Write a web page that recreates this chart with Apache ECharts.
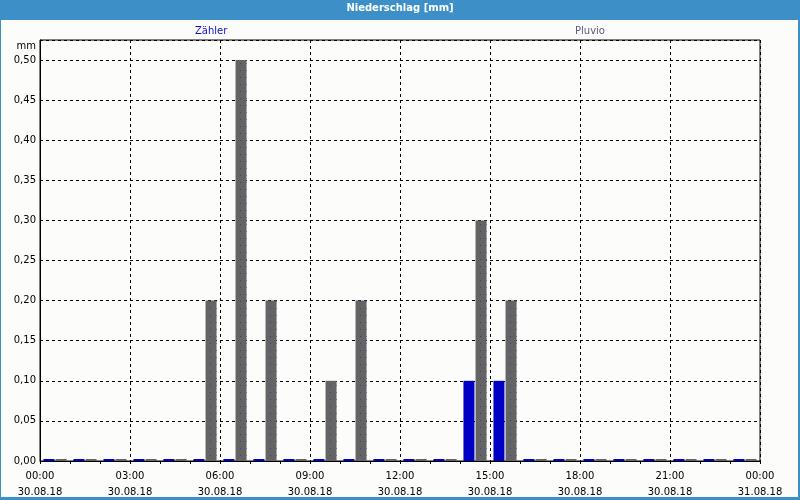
<!DOCTYPE html>
<html>
<head>
<meta charset="utf-8">
<script src="https://cdn.jsdelivr.net/npm/echarts@6/dist/echarts.min.js"></script>
<style>html,body{margin:0;padding:0;background:#fcfdfb;}#c{width:800px;height:500px;}</style>
</head>
<body>
<div id="c"></div>
<script>
var hours = [0,1,2,3,4,5,6,7,8,9,10,11,12,13,14,15,16,17,18,19,20,21,22,23];
var zaehler = [0,0,0,0,0,0,0,0,0,0,0,0,0,0,0.1,0.1,0,0,0,0,0,0,0,0];
var pluvio  = [0,0,0,0,0,0.2,0.5,0.2,0,0.1,0.2,0,0,0,0.3,0.2,0,0,0,0,0,0,0,0];
var xTickLabels = {0:'00:00\n30.08.18',3:'03:00\n30.08.18',6:'06:00\n30.08.18',9:'09:00\n30.08.18',12:'12:00\n30.08.18',15:'15:00\n30.08.18',18:'18:00\n30.08.18',21:'21:00\n30.08.18',24:'00:00\n31.08.18'};

var FONT = 'DejaVu Sans';
var chart = echarts.init(document.getElementById('c'), null, {renderer:'canvas'});
function pairs(arr){ return hours.map(function(h,i){ return [h+0.5, arr[i]]; }); }
chart.setOption({
  backgroundColor:'#fcfdfb',
  animation:false,
  title:{text:'Niederschlag [mm]', left:'center', top:3, padding:0,
    textStyle:{color:'#ffffff', fontFamily:FONT, fontSize:10, fontWeight:'bold'}},
  graphic:[
    {type:'rect', z:-1, shape:{x:0,y:0,width:800,height:20}, style:{fill:'#3d8fc7'}},
    {type:'rect', z:-1, shape:{x:0,y:0,width:1,height:500}, style:{fill:'#3d8fc7'}},
    {type:'rect', z:-1, shape:{x:798,y:0,width:2,height:500}, style:{fill:'#3d8fc7'}},
    {type:'rect', z:-1, shape:{x:0,y:497,width:800,height:3}, style:{fill:'#3d8fc7'}}
  ],
  legend:[
    {data:['Zähler'], left:190, top:26, itemWidth:0, itemHeight:0, icon:'rect', padding:0,
      textStyle:{color:'#1010d0', fontFamily:FONT, fontSize:10}},
    {data:['Pluvio'], left:570, top:26, itemWidth:0, itemHeight:0, icon:'rect', padding:0,
      textStyle:{color:'#5a5a80', fontFamily:FONT, fontSize:10}}
  ],
  grid:{left:40, right:40, top:40, bottom:39, show:true, borderColor:'#000', borderWidth:1, backgroundColor:'transparent'},
  xAxis:{type:'value', min:0, max:24, interval:3,
    axisLine:{show:true, lineStyle:{color:'#000', width:1}},
    axisTick:{show:true, length:3, lineStyle:{color:'#000'}},
    minorTick:{show:true, splitNumber:3, length:3, lineStyle:{color:'#000'}},
    minorSplitLine:{show:false},
    splitLine:{show:true, lineStyle:{color:'#000', type:[3,3], width:1}},
    axisLabel:{margin:7, color:'#000', fontFamily:FONT, fontSize:10, lineHeight:16,
      formatter:function(v){ return xTickLabels[v] || ''; }}
  },
  yAxis:{type:'value', min:0, max:0.525, interval:0.05,
    name:'mm', nameLocation:'end', nameGap:-6,
    nameTextStyle:{align:'right', verticalAlign:'middle', padding:[0,4,0,0], color:'#000', fontFamily:FONT, fontSize:10},
    axisLine:{show:true, lineStyle:{color:'#000'}},
    axisTick:{show:false},
    splitLine:{show:true, lineStyle:{color:'#000', type:[3,3], width:1}},
    axisLabel:{margin:4, color:'#000', fontFamily:FONT, fontSize:10, showMaxLabel:false,
      formatter:function(v){ return v.toFixed(2).replace('.', ','); }}
  },
  series:[
    {name:'Zähler', type:'bar', data:pairs(zaehler), barWidth:11, barGap:'10%', barMinHeight:2,
      itemStyle:{color:'#0000c4'}},
    {name:'Pluvio', type:'bar', data:pairs(pluvio), barWidth:11, barGap:'10%', barMinHeight:2,
      itemStyle:{color:'#646464', decal:{symbol:'rect', symbolSize:1, color:'#3a3a9c', dashArrayX:[1,5], dashArrayY:[1,6], rotation:0}}}
  ]
});
</script>
</body>
</html>
